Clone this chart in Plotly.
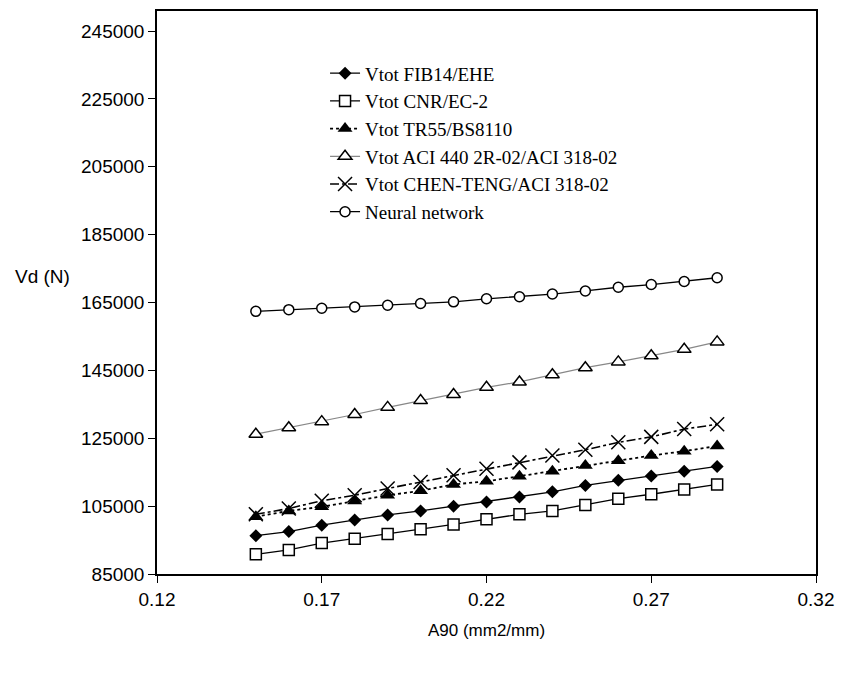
import plotly.graph_objects as go

x_vals = [0.15, 0.16, 0.17, 0.18, 0.19, 0.20, 0.21, 0.22, 0.23, 0.24, 0.25, 0.26, 0.27, 0.28, 0.29]

fib14 = [96300, 97500, 99400, 100900, 102400, 103600, 105000, 106200, 107700, 109200, 111100, 112600, 113900, 115300, 116700]
cnr = [90800, 92100, 94100, 95400, 96800, 98200, 99600, 101100, 102600, 103600, 105300, 107200, 108500, 109900, 111400]
tr55 = [101900, 103600, 104800, 106500, 108200, 109500, 111400, 112300, 113800, 115300, 117000, 118400, 119900, 121200, 122700]
aci440 = [126200, 128100, 129900, 132000, 134100, 136100, 137900, 140000, 141600, 143700, 145800, 147500, 149300, 151200, 153400]
chen = [102600, 104300, 106600, 108200, 110200, 112100, 114100, 116000, 117900, 119900, 121600, 123800, 125400, 127700, 129100]
neural = [162400, 162900, 163300, 163700, 164200, 164700, 165200, 166100, 166700, 167500, 168400, 169500, 170300, 171200, 172300]

names = ["Vtot FIB14/EHE", "Vtot CNR/EC-2", "Vtot TR55/BS8110",
         "Vtot ACI 440 2R-02/ACI 318-02", "Vtot CHEN-TENG/ACI 318-02", "Neural network"]

x_ticks = [0.12, 0.17, 0.22, 0.27, 0.32]
y_ticks = [85000, 105000, 125000, 145000, 165000, 185000, 205000, 225000, 245000]

fig = go.Figure()

fig.add_trace(go.Scatter(x=x_vals, y=fib14, name=names[0], mode="lines+markers",
                         line=dict(color="black", width=1.3),
                         marker=dict(symbol="diamond", size=10, color="black")))
fig.add_trace(go.Scatter(x=x_vals, y=cnr, name=names[1], mode="lines+markers",
                         line=dict(color="black", width=1.3),
                         marker=dict(symbol="square", size=11, color="white",
                                     line=dict(color="black", width=1.5))))
fig.add_trace(go.Scatter(x=x_vals, y=tr55, name=names[2], mode="lines+markers",
                         line=dict(color="black", width=1.8, dash="dot"),
                         marker=dict(symbol="triangle-up", size=13, color="black")))
fig.add_trace(go.Scatter(x=x_vals, y=aci440, name=names[3], mode="lines+markers",
                         line=dict(color="#888888", width=1.2),
                         marker=dict(symbol="triangle-up", size=12, color="white",
                                     line=dict(color="black", width=1.5))))
fig.add_trace(go.Scatter(x=x_vals, y=chen, name=names[4], mode="lines+markers",
                         line=dict(color="black", width=1.6, dash="dashdot"),
                         marker=dict(symbol="x-thin-open", size=14, color="black",
                                     line=dict(color="black", width=1.5))))
fig.add_trace(go.Scatter(x=x_vals, y=neural, name=names[5], mode="lines+markers",
                         line=dict(color="black", width=1.3),
                         marker=dict(symbol="circle", size=10, color="white",
                                     line=dict(color="black", width=1.5))))

sans = "Liberation Sans, Arial, sans-serif"
axis_font = dict(family=sans, size=19, color="black")

fig.update_layout(
    width=844, height=673,
    margin=dict(l=157, r=28, t=9, b=99),
    paper_bgcolor="white", plot_bgcolor="white",
    showlegend=True,
    legend=dict(x=0.255, y=0.923, xanchor="left", yanchor="top",
                bgcolor="rgba(0,0,0,0)", borderwidth=0,
                font=dict(family="Liberation Serif, Times New Roman, serif", size=19, color="black"),
                tracegroupgap=0),
    xaxis=dict(range=[0.12, 0.32], tickvals=x_ticks, ticktext=[f"{v:.2f}" for v in x_ticks],
               showgrid=False, zeroline=False, showline=True, linecolor="black", linewidth=1.5,
               mirror=True, ticks="outside", ticklen=7, tickcolor="black",
               tickfont=axis_font,
               title=dict(text="A90 (mm2/mm)", font=dict(family=sans, size=17, color="black"),
                          standoff=16)),
    yaxis=dict(range=[85000, 250900], tickvals=y_ticks, ticktext=[str(v) for v in y_ticks],
               showgrid=False, zeroline=False, showline=True, linecolor="black", linewidth=1.5,
               mirror=True, ticks="outside", ticklen=7, tickcolor="black",
               tickfont=axis_font),
    annotations=[dict(text="Vd (N)", xref="paper", yref="paper", x=-0.173, y=0.528,
                      xanchor="center", yanchor="middle", showarrow=False,
                      font=dict(family=sans, size=19, color="black"))],
)

fig.write_html("out.html")
